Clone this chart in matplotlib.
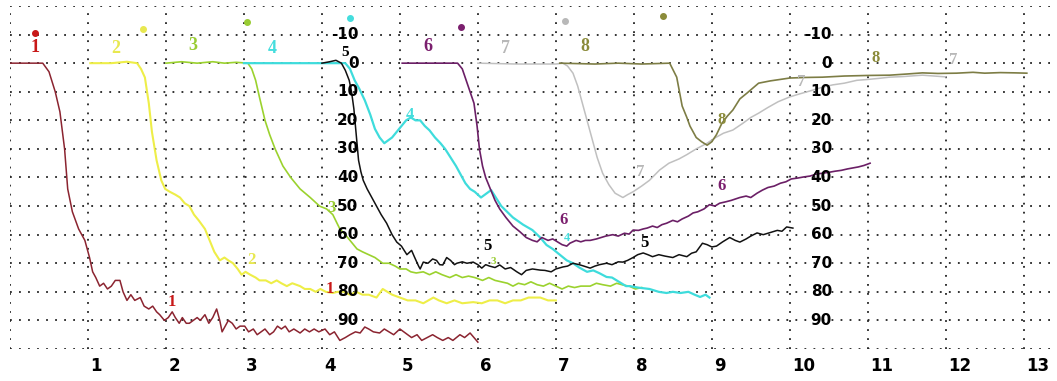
import matplotlib
matplotlib.use("Agg")
import matplotlib.pyplot as plt

# curve data (x in time units, y in the 0..100 depth scale)
x1 = [0.0, 0.42, 0.5, 0.58, 0.64, 0.7, 0.74, 0.8, 0.88, 0.96, 1.02, 1.06, 1.1, 1.15, 1.2, 1.25, 1.3, 1.35,
      1.41, 1.45, 1.5, 1.55, 1.6, 1.67, 1.72, 1.78, 1.83, 1.88, 1.92, 1.98, 2.03, 2.08, 2.12, 2.17, 2.21,
      2.26, 2.3, 2.35, 2.4, 2.44, 2.5, 2.55, 2.6, 2.65, 2.69, 2.72, 2.76, 2.8, 2.85, 2.9, 2.95, 3.01, 3.06,
      3.12, 3.17, 3.22, 3.27, 3.33, 3.38, 3.43, 3.48, 3.53, 3.58, 3.64, 3.72, 3.78, 3.84, 3.9, 3.96, 4.04,
      4.1, 4.16, 4.23, 4.3, 4.36, 4.43, 4.49, 4.55, 4.6, 4.66, 4.74, 4.8, 4.86, 4.92, 5.0, 5.05, 5.1, 5.15,
      5.22, 5.28, 5.35, 5.42, 5.48, 5.55, 5.62, 5.68, 5.77, 5.83, 5.9, 5.95, 6.0]
y1 = [0, 0, 3, 10, 17, 30, 44, 52, 58, 62, 68, 73, 75, 78, 77, 79, 78, 76,
      76, 80, 83, 81, 83, 82, 85, 86, 85, 87, 88, 90, 89, 87, 89, 91, 89,
      91, 91, 90, 89, 90, 88, 91, 89, 86, 90, 94, 92, 90, 91, 93, 92, 92, 94,
      93, 95, 94, 93, 95, 94, 92, 93, 92, 94, 93, 94.4, 93, 94, 93, 94, 93,
      95, 94, 97, 96, 95, 94, 94.4, 92.3, 93, 94, 94.4, 93, 94, 95, 93, 94, 95, 96,
      95, 97, 96, 95, 96, 97, 96, 97, 95, 96, 94.4, 96, 97.6]

x2 = [1.03, 1.3, 1.5, 1.63, 1.68, 1.73, 1.78, 1.82, 1.88, 1.94, 1.99, 2.05, 2.12, 2.18, 2.24, 2.3, 2.36,
      2.42, 2.5, 2.56, 2.62, 2.69, 2.75, 2.8, 2.86, 2.92, 2.97, 3.02, 3.08, 3.15, 3.2, 3.28, 3.35, 3.42,
      3.48, 3.55, 3.62, 3.72, 3.78, 3.85, 3.92, 3.98, 4.05, 4.14, 4.2, 4.28, 4.36, 4.44, 4.52, 4.6, 4.7,
      4.78, 4.9, 5.0, 5.1, 5.2, 5.3, 5.43, 5.5, 5.6, 5.7, 5.8, 5.94, 6.05, 6.15, 6.25, 6.35, 6.45, 6.55,
      6.65, 6.8, 6.9, 7.0]
y2 = [0, 0, -0.5, 0, 2, 5, 14, 24, 34, 41, 44, 45, 46, 47, 49, 50, 53,
      55, 58, 62, 66, 69, 68, 69, 70, 72, 74, 73, 74, 75, 76, 76, 77, 76,
      77, 78, 77, 78, 79, 79, 80, 79, 80, 80.4, 80, 80, 81, 80, 81, 81, 82,
      79, 81, 82, 83, 83, 84, 82, 83, 84, 83, 84, 83.6, 84, 83, 83, 84, 83, 83,
      82, 82, 83, 83]

x3 = [2.0, 2.2, 2.4, 2.6, 2.75, 2.9, 3.05, 3.1, 3.15, 3.2, 3.27, 3.33, 3.4, 3.5, 3.6, 3.72, 3.85, 3.97,
      4.06, 4.14, 4.23, 4.3, 4.36, 4.45, 4.52, 4.6, 4.68, 4.78, 4.86, 4.94, 5.0, 5.08, 5.14, 5.21, 5.3,
      5.38, 5.46, 5.54, 5.64, 5.72, 5.8, 5.88, 5.96, 6.06, 6.14, 6.22, 6.3, 6.38, 6.45, 6.52, 6.6, 6.68,
      6.76, 6.84, 6.92, 7.0, 7.08, 7.16, 7.24, 7.32, 7.44, 7.52, 7.6, 7.7, 7.78, 7.86, 7.94, 8.02, 8.1]
y3 = [0, -0.5, 0, -0.5, 0, -0.3, 0, 2, 6, 12, 20, 25, 30, 36, 40, 44, 47, 50,
      51, 53, 58, 60, 62, 65, 66, 67, 68, 70, 70, 71, 72, 72, 73, 73.4, 73,
      74, 73, 74, 75, 74, 75, 74.5, 75, 76, 75, 76, 76.5, 77, 78, 77, 77.5, 76.5,
      77.5, 78, 77, 78, 79, 78, 78.5, 78, 78, 77, 77.5, 78, 77, 77.6, 78, 79, 78.5]

x4 = [3.0, 4.3, 4.36, 4.42, 4.48, 4.55, 4.62, 4.68, 4.74, 4.8, 4.85, 4.9, 4.96, 5.02, 5.08, 5.14, 5.2,
      5.26, 5.32, 5.38, 5.45, 5.52, 5.58, 5.65, 5.72, 5.78, 5.84, 5.9, 5.96, 6.04, 6.17, 6.3, 6.45, 6.58,
      6.7, 6.8, 6.88, 6.96, 7.05, 7.14, 7.22, 7.3, 7.4, 7.48, 7.56, 7.65, 7.72, 7.78, 7.84, 7.9, 7.95,
      8.05, 8.2, 8.32, 8.42, 8.5, 8.6, 8.7, 8.78, 8.85, 8.92, 8.97]
y4 = [0, 0, 2, 6, 9, 13, 18, 23, 26, 28, 27, 26, 24, 22, 20, 19, 20,
      20, 22, 23.5, 26, 28, 30, 33, 36, 39, 42, 44, 45, 47, 44.4, 50, 54, 56.5,
      58.4, 61, 63.6, 65, 67, 69, 70, 71.5, 73, 72.5, 73.5, 74.8, 75, 76, 77, 78, 78,
      78.5, 79, 80, 80.4, 80, 80.4, 80, 81, 81.8, 81, 82]

x5 = [4.0, 4.1, 4.18, 4.25, 4.3, 4.35, 4.38, 4.41, 4.43, 4.45, 4.47, 4.5, 4.53, 4.58, 4.62, 4.7, 4.76,
      4.83, 4.9, 4.96, 5.02, 5.09, 5.15, 5.19, 5.24, 5.26, 5.3, 5.36, 5.42, 5.47, 5.51, 5.55, 5.6, 5.65,
      5.7, 5.73, 5.8, 5.86, 5.94, 6.0, 6.05, 6.1, 6.15, 6.22, 6.28, 6.35, 6.42, 6.5, 6.56, 6.62, 6.7,
      6.8, 6.86, 6.94, 7.0, 7.09, 7.15, 7.22, 7.3, 7.36, 7.44, 7.5, 7.56, 7.65, 7.72, 7.8, 7.86, 7.92,
      7.99, 8.05, 8.12, 8.18, 8.24, 8.32, 8.4, 8.5, 8.58, 8.68, 8.74, 8.8, 8.88, 8.94, 9.0, 9.06, 9.14,
      9.23, 9.3, 9.36, 9.44, 9.5, 9.58, 9.66, 9.72, 9.78, 9.84, 9.9, 9.96, 10.04]
y5 = [0, -0.5, -1, 0, 2.5, 6, 10, 16, 22, 28, 34, 38, 41, 44, 46, 50, 53,
      56, 60, 62.6, 64, 67, 65.5, 68, 71, 72, 69.6, 70, 68.5, 69, 70.5, 70.6, 68, 69,
      70.5, 70, 69.5, 70, 69.6, 70.5, 71.7, 70.5, 71, 71.5, 70.6, 72, 71.5, 73, 74, 72.5, 72,
      72.4, 72.5, 73, 72, 71.3, 71, 70, 70.5, 71, 71.7, 71, 70.5, 70, 70.5, 69.5, 69.6, 69,
      68, 67, 66.4, 67, 67.7, 67, 67.5, 68, 67, 67.7, 66.5, 66, 63, 63.5, 64.3, 64, 62.5,
      61, 62, 62.6, 61.5, 60.5, 59.4, 60, 59.5, 59, 58.5, 58.8, 57.3, 57.7]

x6 = [5.03, 5.5, 5.74, 5.8, 5.85, 5.9, 5.95, 5.99, 6.02, 6.06, 6.1, 6.16, 6.22, 6.28, 6.36, 6.45, 6.54,
      6.62, 6.7, 6.76, 6.82, 6.9, 6.96, 7.02, 7.08, 7.14, 7.18, 7.26, 7.32, 7.38, 7.44, 7.52, 7.58, 7.64,
      7.73, 7.8, 7.88, 7.94, 7.99, 8.06, 8.12, 8.17, 8.24, 8.3, 8.36, 8.42, 8.5, 8.56, 8.62, 8.7, 8.76,
      8.82, 8.9, 8.97, 9.04, 9.1, 9.18, 9.25, 9.36, 9.44, 9.5, 9.58, 9.65, 9.72, 9.8, 9.88, 9.95, 10.02,
      10.1, 10.18, 10.26, 10.34, 10.42, 10.5, 10.58, 10.66, 10.74, 10.82, 10.88, 10.95, 11.03]
y6 = [0, 0, 0, 2, 6, 10, 14, 22, 30, 36, 40, 44, 48, 51, 54, 57, 59,
      61, 62, 62.5, 61, 62, 61.5, 62.5, 63.5, 64, 63, 62, 62.5, 62, 62, 61.5, 61, 60.5,
      60, 60.5, 59.5, 59.8, 58.4, 58.5, 58, 57.7, 57, 57.5, 56.5, 56, 55, 55.5, 54.5, 53.5, 52.4,
      52, 51, 49.5, 50, 49, 48.5, 48, 47, 46.5, 47, 45.5, 44.4, 43.5, 43, 42, 41.5, 40.5,
      40.2, 39.8, 39.5, 38.8, 38.5, 38.2, 37.8, 37.5, 37, 36.6, 36.3, 35.8, 35]

x7 = [6.0, 6.5, 7.0, 7.09, 7.15, 7.22, 7.28, 7.35, 7.41, 7.47, 7.53, 7.6, 7.68, 7.76, 7.86, 7.92, 7.99,
      8.1, 8.2, 8.33, 8.45, 8.58, 8.68, 8.8, 8.94, 9.05, 9.15, 9.27, 9.4, 9.5, 9.6, 9.72, 9.85, 10.0,
      10.12, 10.25, 10.42, 10.55, 10.7, 10.86, 11.0, 11.15, 11.28, 11.45, 11.6, 11.7, 11.85, 12.0]
y7 = [0, 0.3, 0.3, 0, 1, 3.5, 8, 15, 21, 27, 33, 38.5, 42.5, 45.5, 47, 46, 45,
      43, 41, 37.4, 35, 33.5, 32, 30, 28, 26, 24.5, 23.4, 21, 19, 17.5, 15.5, 13.5, 11.8,
      10.8, 9.8, 8.4, 7.6, 7, 6, 5.7, 5.3, 4.9, 4.7, 4.4, 4.2, 4.5, 4.8]

x8 = [7.05, 7.5, 7.8, 8.1, 8.46, 8.55, 8.62, 8.68, 8.72, 8.8, 8.87, 8.94, 9.0, 9.06, 9.13, 9.2, 9.27,
      9.36, 9.45, 9.6, 9.75, 9.9, 10.0, 10.2, 10.42, 10.7, 11.0, 11.28, 11.5, 11.7, 11.9, 12.14, 12.35,
      12.5, 12.7, 12.9, 13.04]
y8 = [0, 0.3, 0, 0.3, 0, 4.9, 15, 19, 22, 26, 27.5, 28.7, 27.5, 25, 21, 18.5, 16.4,
      12.5, 10.5, 7, 6.2, 5.6, 5.2, 5, 4.9, 4.5, 4.3, 4.2, 3.8, 3.4, 3.6, 3.5, 3.2,
      3.5, 3.3, 3.4, 3.5]

names = ["1", "2", "3", "4", "5", "6", "7", "8"]
line_colors = ["#8b2430", "#eeee48", "#9bd22e", "#3edcdc", "#111111", "#6b1f66", "#c0c0c0", "#7d7d45"]
text_colors = ["#c81818", "#e8e850", "#99cc33", "#44dddd", "#000000", "#7b1f6e", "#b8b8b8", "#8b8b3a"]
widths = [1.1, 1.5, 1.2, 1.6, 1.1, 1.2, 1.1, 1.2]
xs = [x1, x2, x3, x4, x5, x6, x7, x8]
ys = [y1, y2, y3, y4, y5, y6, y7, y8]

depth_ticks = [-10, 0, 10, 20, 30, 40, 50, 60, 70, 80, 90]
time_ticks = list(range(1, 14))

# where the curve numbers and dots sit
top_label_x = [0.32, 1.35, 2.35, 3.36, 4.3, 5.36, 6.35, 7.37]
top_label_y = [-5.6, -5.2, -6.3, -5.2, -3.8, -6.0, -5.2, -6.0]
dot_x = [0.32, 1.71, 3.04, 4.36, None, 5.79, 7.12, 8.37]
dot_y = [-10.5, -12.0, -14.3, -15.7, None, -12.6, -14.7, -16.4]
mid_labels = [("1", 2.08, 83.6, 12), ("1", 4.1, 79.0, 12), ("2", 3.1, 69.0, 12), ("3", 4.12, 50.5, 12),
              ("3", 6.2, 69.3, 8), ("4", 5.13, 18.0, 12), ("4", 7.14, 61.2, 9), ("5", 6.12, 64.0, 12),
              ("5", 8.14, 63.0, 12), ("6", 7.1, 55.0, 12), ("6", 9.13, 43.0, 12), ("7", 8.08, 38.0, 12),
              ("7", 12.1, -1.0, 12), ("7", 10.15, 6.5, 12), ("8", 9.13, 20.0, 12), ("8", 11.1, -1.7, 12)]

fig = plt.figure(figsize=(10.57, 3.81), dpi=100)
ax = fig.add_axes([10 / 1057, 32 / 381, 1041 / 1057, 343 / 381])
ax.set_xlim(0, 13.35)
ax.set_ylim(100, -20)

ax.set_xticks(range(0, 14))
ax.set_yticks(range(-20, 101, 10))
ax.tick_params(length=0, labelbottom=False, labelleft=False)
ax.grid(True, color="#222222", linestyle=(0, (1, 4)), linewidth=1.3)
for sp in ax.spines.values():
    sp.set_visible(False)

for i in range(8):
    ax.plot(xs[i], ys[i], color=line_colors[i], lw=widths[i], zorder=3 + (i == 4))

col_of = dict(zip(names, text_colors))
for i in range(8):
    fs = 11 if names[i] == "5" else 13
    ax.text(top_label_x[i], top_label_y[i], names[i], color=text_colors[i], fontsize=fs,
            fontweight="bold", family="Liberation Serif", ha="center", va="center", zorder=6)
    if dot_x[i] is not None:
        ax.plot(dot_x[i], dot_y[i], "o", ms=4, color=text_colors[i], zorder=6, clip_on=False)

for name, lx, ly, fs in mid_labels:
    ax.text(lx, ly, name, color=col_of[name], fontsize=fs, fontweight="bold",
            family="Liberation Serif", ha="center", va="center", zorder=6)

# the two inner depth scales
for col_x in [4.47, 10.54]:
    for v in depth_ticks:
        ax.text(col_x, v, str(v), fontsize=11, fontweight="bold", ha="right", va="center",
                color="black", zorder=7)

for t in time_ticks:
    ax.text(t + 0.03, 105.8, str(t), fontsize=12, fontweight="bold", ha="left", va="center",
            color="black", clip_on=False)

fig.savefig("out.png", dpi=100, facecolor="white")
